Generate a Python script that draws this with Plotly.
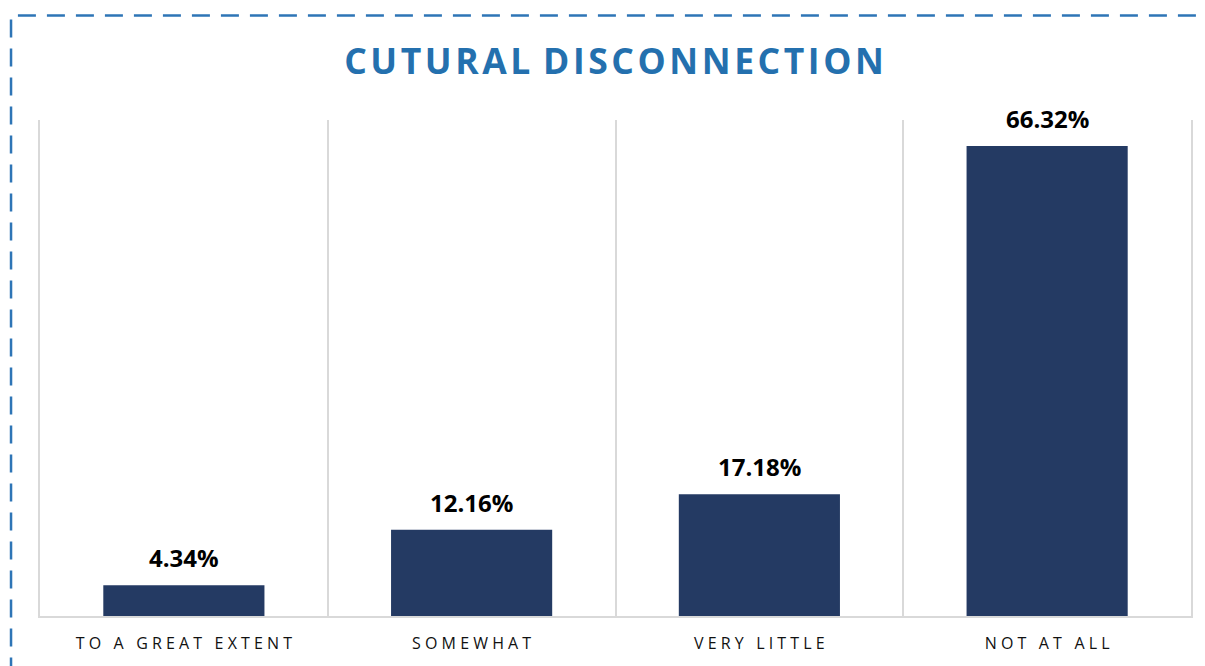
import plotly.graph_objects as go

categories = ["TO A GREAT EXTENT", "SOMEWHAT", "VERY LITTLE", "NOT AT ALL"]
values = [4.34, 12.16, 17.18, 66.32]
value_labels = ["4.34%", "12.16%", "17.18%", "66.32%"]
title_text = "CUTURAL DISCONNECTION"

def spaced(s, gap="\u00a0", wordgap="\u00a0\u00a0\u00a0"):
    words = s.split(" ")
    return wordgap.join(gap.join(list(w)) for w in words)

# page body has an 8px offset, so the figure is sized/placed accordingly
OFF = 8
W, H = 1205 - OFF, 666 - OFF
ml, mr, mt, mb = 40 - OFF, 13, 120 - OFF, 48
pw, ph = W - ml - mr, H - mt - mb

fig = go.Figure()
fig.add_trace(go.Bar(
    x=categories, y=values,
    marker=dict(color="#243A63", line=dict(width=0)),
    width=0.56,
    cliponaxis=False,
))

for c, v, t in zip(categories, values, value_labels):
    fig.add_annotation(x=c, y=v, xref="x", yref="y", text=t, showarrow=False,
                       yanchor="bottom", yshift=9,
                       font=dict(family="Open Sans", size=24, color="#000000", weight="bold"))

fig.update_layout(
    width=W, height=H,
    margin=dict(l=ml, r=mr, t=mt, b=mb),
    paper_bgcolor="white", plot_bgcolor="white",
    showlegend=False,
    title=dict(text=spaced(title_text, "\u200a", "\u00a0\u200a"), x=(614 - OFF) / W, xanchor="center",
               y=1 - (62 - OFF) / H, yanchor="middle",
               font=dict(family="Open Sans", size=35.5, color="#2470AE", weight="bold")),
    xaxis=dict(
        type="category", tickson="boundaries", showgrid=True, gridcolor="#D9D9D9", gridwidth=1.5,
        showline=True, linecolor="#D9D9D9", linewidth=1.5, ticks="",
        tickvals=categories, ticktext=[spaced(c) for c in categories],
        tickfont=dict(family="Open Sans", size=16, color="#111111"),
        ticklabelstandoff=12,
        range=[-0.5, 3.5],
    ),
    yaxis=dict(
        range=[0, 70], showgrid=False, showticklabels=False, zeroline=False,
        showline=True, mirror=True, linecolor="#D9D9D9", linewidth=1.5, ticks="",
    ),
)

fig.add_shape(type="rect", xref="paper", yref="paper",
              x0=(11 - OFF - ml) / pw, x1=1.08, y0=-0.2, y1=(H - mb - (15 - OFF)) / ph,
              line=dict(color="#2E75B6", width=2.5, dash="18px,11px"),
              fillcolor="rgba(0,0,0,0)", layer="above")

fig.write_html("out.html")
